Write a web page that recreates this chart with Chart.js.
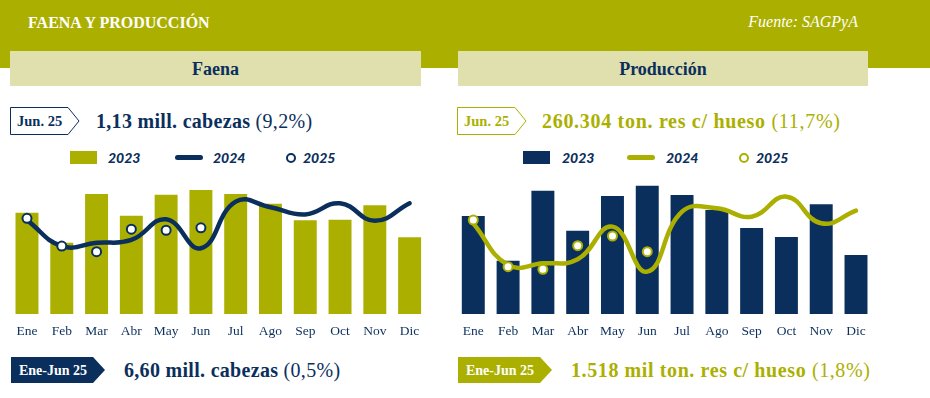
<!DOCTYPE html>
<html>
<head>
<meta charset="utf-8">
<script src="https://cdn.jsdelivr.net/npm/chart.js@4.4.1/dist/chart.umd.min.js"></script>
<style>
  body { margin: 0; width: 930px; height: 398px; background: #fff; position: relative; overflow: hidden; font-family: "Liberation Serif", serif; }
  .abs { position: absolute; }
  #band { left: 0; top: 0; width: 930px; height: 68px; background: #abb000; }
  #title { left: 28px; top: 14px; color: #fff; font-weight: bold; font-size: 16px; white-space: nowrap; }
  #source { right: 72px; top: 13px; color: #fff; font-style: italic; font-size: 16px; }
  .box { top: 51px; height: 35px; background: #dfe0ae; color: #0b2f5d; font-weight: bold; font-size: 18px; text-align: center; line-height: 36px; }
  .head { font-size: 20px; font-weight: bold; white-space: nowrap; line-height: 20px; }
  .head span { font-weight: normal; }
  .leg { font-family: Lato, sans-serif; font-style: italic; font-weight: 900; font-size: 14px; color: #0b2f5d; line-height: 14px; }
  canvas { position: absolute; }
</style>
</head>
<body>
<div id="band" class="abs"></div>
<div id="title" class="abs">FAENA Y PRODUCCIÓN</div>
<div id="source" class="abs">Fuente: SAGPyA</div>
<div class="abs box" style="left:10px;width:411px;">Faena</div>
<div class="abs box" style="left:458px;width:410px;">Producción</div>

<svg class="abs" style="left:0;top:0" width="930" height="398">
  <polygon points="10.5,107.5 68,107.5 79,121 68,134.5 10.5,134.5" fill="#fff" stroke="#0b2f5d" stroke-width="1"/>
  <text x="17" y="126" font-family="Liberation Serif" font-weight="bold" font-size="14.5" fill="#0b2f5d">Jun. 25</text>
  <polygon points="457.5,107.5 515,107.5 526,121 515,134.5 457.5,134.5" fill="#fff" stroke="#abb000" stroke-width="1"/>
  <text x="464" y="126" font-family="Liberation Serif" font-weight="bold" font-size="14.5" fill="#abb000">Jun. 25</text>
  <polygon points="11,357 93,357 105,370 93,383 11,383" fill="#0b2f5d"/>
  <text x="19" y="375" font-family="Liberation Serif" font-weight="bold" font-size="14" fill="#fff">Ene-Jun 25</text>
  <polygon points="458,357 540,357 552,370 540,383 458,383" fill="#abb000"/>
  <text x="466" y="375" font-family="Liberation Serif" font-weight="bold" font-size="14" fill="#fff">Ene-Jun 25</text>
</svg>

<div class="abs head" style="left:96px;top:111px;color:#0b2f5d;letter-spacing:0.3px;">1,13 mill. cabezas <span>(9,2%)</span></div>
<div class="abs head" style="left:542px;top:111px;color:#abb000;letter-spacing:0.7px;">260.304 ton. res c/ hueso <span>(11,7%)</span></div>
<div class="abs head" style="left:124px;top:360px;color:#0b2f5d;letter-spacing:0.3px;">6,60 mill. cabezas <span>(0,5%)</span></div>
<div class="abs head" style="left:571px;top:360px;color:#abb000;letter-spacing:0.6px;">1.518 mil ton. res c/ hueso <span>(1,8%)</span></div>

<div id="legFaena"></div>
<div id="legProd"></div>

<canvas id="cFaena" width="440" height="190" style="left:0;top:160px;width:440px;height:190px;"></canvas>
<canvas id="cProd" width="440" height="190" style="left:446px;top:160px;width:440px;height:190px;"></canvas>

<script>
// Months
const months = ['Ene', 'Feb', 'Mar', 'Abr', 'May', 'Jun', 'Jul', 'Ago', 'Sep', 'Oct', 'Nov', 'Dic'];
const years = ['2023', '2024', '2025'];

// Faena (miles de cabezas)
const faena2023 = [1199, 1051, 1292, 1185, 1288, 1311, 1292, 1244, 1162, 1165, 1236, 1078];
const faena2024 = [1163, 1035, 1051, 1065, 1167, 1024, 1254, 1226, 1191, 1246, 1160, 1246];
const faena2025 = [1172, 1035, 1007, 1118, 1113, 1125, null, null, null, null, null, null];

// Produccion (miles de ton. res c/ hueso)
const prod2023 = [303.9, 247.4, 335.9, 285.3, 329.2, 342.2, 330.4, 311.5, 288.7, 277.3, 318.7, 254.6];
const prod2024 = [294.6, 241.9, 244.0, 249.1, 290.4, 233.5, 309.3, 313.6, 303.0, 328.3, 294.6, 310.6];
const prod2025 = [298.8, 239.8, 236.5, 266.3, 278.6, 258.7, null, null, null, null, null, null];

const OLIVE = '#abb000';
const NAVY = '#0b2f5d';

function makeChart(id, barData, lineData, dotData, barColor, lineColor, yMin, yMax, padL, padR) {
    var ctx = document.getElementById(id).getContext('2d');
    return new Chart(ctx, {
        type: 'bar',
        data: {
            labels: months,
            datasets: [
                {
                    label: years[0],
                    data: barData,
                    backgroundColor: barColor,
                    categoryPercentage: 1,
                    barPercentage: 0.66,
                    order: 3
                },
                {
                    type: 'line',
                    label: years[1],
                    data: lineData,
                    borderColor: lineColor,
                    borderWidth: 4.5,
                    borderCapStyle: 'round',
                    tension: 0.45,
                    pointRadius: 0,
                    clip: false,
                    order: 2
                },
                {
                    type: 'line',
                    label: years[2],
                    data: dotData,
                    showLine: false,
                    pointRadius: 4.5,
                    pointBorderWidth: 2,
                    pointBackgroundColor: '#fff',
                    pointBorderColor: lineColor,
                    clip: false,
                    order: 1
                }
            ]
        },
        options: {
            responsive: false,
            animation: false,
            layout: { padding: { left: padL, right: padR, top: 10, bottom: 6 } },
            plugins: { legend: { display: false }, tooltip: { enabled: false } },
            scales: {
                x: {
                    grid: { display: false, drawTicks: false },
                    border: { display: false },
                    ticks: { color: NAVY, font: { family: 'Liberation Serif', size: 13.5 }, padding: 9, maxRotation: 0 },
                    afterFit: function(scale) { scale.height = 30; }
                },
                y: { display: false, min: yMin, max: yMax }
            }
        }
    });
}

function makeLegend(el, left, barColor, lineColor, offs) {
    var html = '';
    html += '<div class="abs" style="left:' + (left + offs[0]) + 'px;top:151px;width:27px;height:13px;background:' + barColor + ';"></div>';
    html += '<div class="abs leg" style="left:' + (left + offs[1]) + 'px;top:151px;">' + years[0] + '</div>';
    html += '<div class="abs" style="left:' + (left + offs[2]) + 'px;top:155px;width:28px;height:5px;border-radius:3px;background:' + lineColor + ';"></div>';
    html += '<div class="abs leg" style="left:' + (left + offs[3]) + 'px;top:151px;">' + years[1] + '</div>';
    html += '<div class="abs" style="left:' + (left + offs[4] - 5) + 'px;top:153px;width:6px;height:6px;border-radius:50%;border:2px solid ' + lineColor + ';background:#fff;"></div>';
    html += '<div class="abs leg" style="left:' + (left + offs[5]) + 'px;top:151px;">' + years[2] + '</div>';
    document.getElementById(el).innerHTML = html;
}

makeLegend('legFaena', 0, OLIVE, NAVY, [70, 108, 175, 213, 291, 303]);
makeLegend('legProd', 453, NAVY, OLIVE, [70, 109, 174, 213, 291, 303]);

makeChart('cFaena', faena2023, faena2024, faena2025, OLIVE, NAVY, 700, 1410, 9.6, 13);
makeChart('cProd', prod2023, prod2024, prod2025, NAVY, OLIVE, 180, 362, 9.9, 12.6);
</script>
</body>
</html>
